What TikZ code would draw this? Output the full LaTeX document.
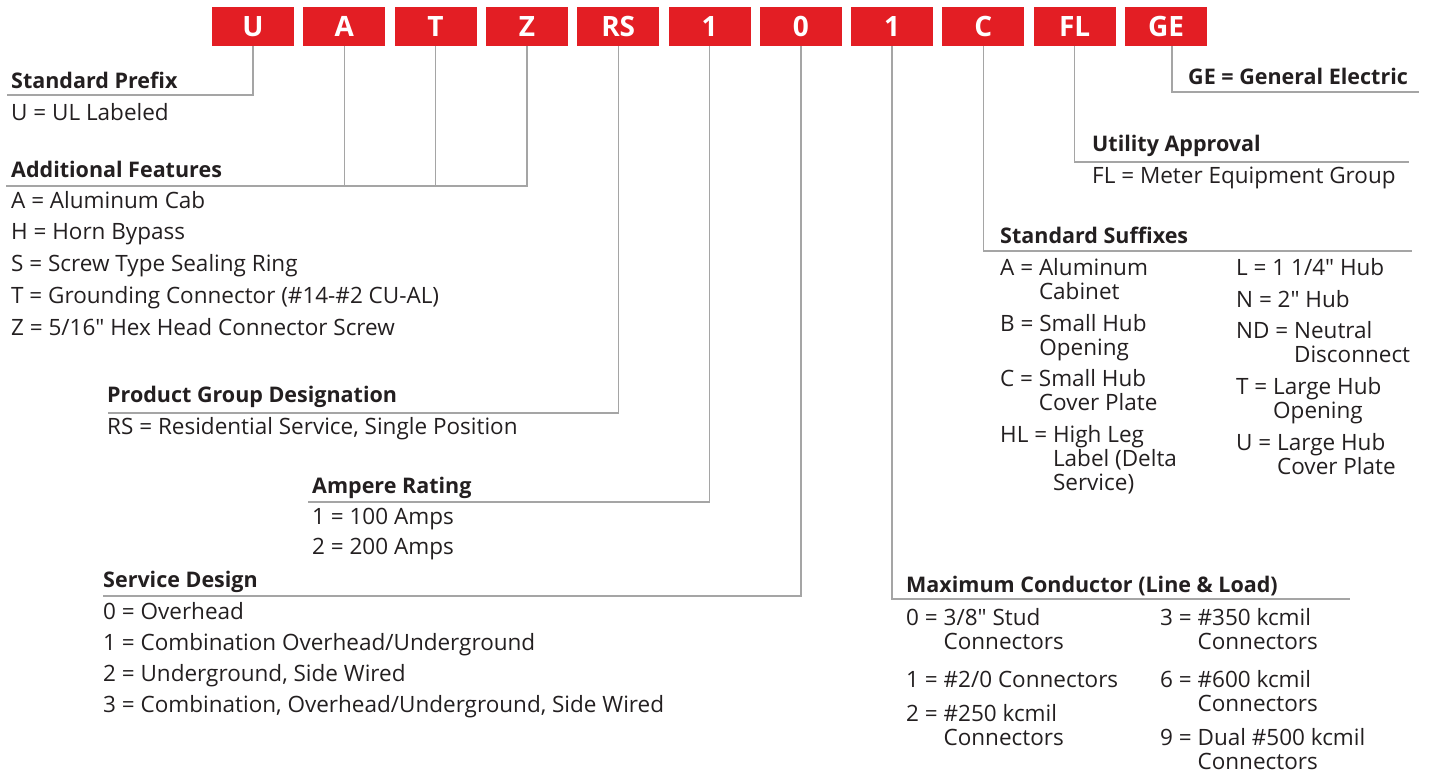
\documentclass[tikz,border=0pt]{standalone}
\usepackage{fontspec}
\setmainfont{Open Sans}[Ligatures=TeXOff]
\usetikzlibrary{positioning}
\definecolor{codered}{RGB}{227,30,36}
\definecolor{leadgray}{RGB}{165,165,165}
\definecolor{inkblack}{RGB}{35,31,32}
\newcommand{\hangitem}[2]{#1 =~\begin{tabular}[t]{@{}l@{}}#2\end{tabular}}
\newcommand{\inch}{"}

\begin{document}
\begin{tikzpicture}[x=1pt,y=-1pt]
\tikzstyle{codebox}=[fill=codered, minimum width=82pt, minimum height=39pt, inner sep=0pt, text=white, font=\fontsize{28}{30}\selectfont\bfseries]
\tikzstyle{leader}=[draw=leadgray, line width=1.4pt]
\tikzstyle{heading}=[anchor=base west, inner sep=0pt, text=inkblack, font=\fontsize{21.5}{24}\selectfont\bfseries]
\tikzstyle{entry}=[anchor=base west, inner sep=0pt, text=inkblack, font=\fontsize{22.5}{24}\selectfont]

\useasboundingbox (0,0) rectangle (1431,774);

% Code boxes along the top
\foreach \lbl/\nm [count=\i from 0] in {U/U, A/A, T/T, Z/Z, RS/RS, 1/amp, 0/svc, 1/max, C/C, FL/FL, GE/GE}
  \node[codebox] (b\nm) at (253+91.3*\i, 26.5) {\lbl};

% Leader end points
\coordinate (eSP) at (7,95);
\coordinate (eAF) at (6,186);
\coordinate (ePG) at (108,413);
\coordinate (eAR) at (308,502);
\coordinate (eSD) at (103,596);
\coordinate (eMC) at (1350,599);
\coordinate (eSS) at (1412,251);
\coordinate (eUA) at (1409,162);
\coordinate (eGE) at (1419,92);

\draw[leader] (bU.south) |- (eSP);
\draw[leader] (bA.south) -- (bA.south |- eAF);
\draw[leader] (bT.south) -- (bT.south |- eAF);
\draw[leader] (bZ.south) |- (eAF);
\draw[leader] (bRS.south) |- (ePG);
\draw[leader] (bamp.south) |- (eAR);
\draw[leader] (bsvc.south) |- (eSD);
\draw[leader] (bmax.south) |- (eMC);
\draw[leader] (bC.south) |- (eSS);
\draw[leader] (bFL.south) |- (eUA);
\draw[leader] ([xshift=6pt]bGE.south) |- (eGE);

% Left hand groups
\node[heading] (hSP) at (11,88) {Standard Prefix};
\node[entry] (iSP) at (11,120) {U = UL Labeled};

\node[heading] (hAF) at (11,177) {Additional Features};
\foreach \txt [count=\k from 0] in {A = Aluminum Cab, H = Horn Bypass, S = Screw Type Sealing Ring, T = Grounding Connector (\#14-\#2 CU-AL), Z = 5/16\inch{} Hex Head Connector Screw}
  \node[entry] (iAF\k) at (11, 208+31.8*\k) {\txt};

\node[heading] (hPG) at (107,402) {Product Group Designation};
\node[entry] (iPG) at (107,434) {RS = Residential Service, Single Position};

\node[heading] (hAR) at (312,493) {Ampere Rating};
\node[entry] (iAR0) at (312,524) {1 = 100 Amps};
\node[entry] (iAR1) at (312,554) {2 = 200 Amps};

\node[heading] (hSD) at (103,587) {Service Design};
\foreach \txt [count=\k from 0] in {0 = Overhead, 1 = Combination Overhead/Underground, {2 = Underground, Side Wired}, {3 = Combination, Overhead/Underground, Side Wired}}
  \node[entry] (iSD\k) at (103, 619+31*\k) {\txt};

% Right hand groups
\node[heading] (hGE) at (1188,84) {GE = General Electric};

\node[heading] (hUA) at (1092,151) {Utility Approval};
\node[entry] (iUA) at (1092,183) {FL = Meter Equipment Group};

\node[heading] (hSS) at (1000,243) {Standard Suffixes};
\node[entry] (iSSa) at (1000,275) {\hangitem{A}{Aluminum\\Cabinet}};
\node[entry] (iSSb) at (1000,331) {\hangitem{B}{Small Hub\\Opening}};
\node[entry] (iSSc) at (1000,386) {\hangitem{C}{Small Hub\\Cover Plate}};
\node[entry] (iSSd) at (1000,442) {\hangitem{HL}{High Leg\\Label (Delta\\Service)}};
\node[entry] (iSSe) at (1236,275) {L = 1 1/4\inch{} Hub};
\node[entry] (iSSf) at (1236,307) {N = 2\inch{} Hub};
\node[entry] (iSSg) at (1236,338) {\hangitem{ND}{Neutral\\Disconnect}};
\node[entry] (iSSh) at (1236,394) {\hangitem{T}{Large Hub\\Opening}};
\node[entry] (iSSi) at (1236,450) {\hangitem{U}{Large Hub\\Cover Plate}};

\node[heading] (hMC) at (906,592) {Maximum Conductor (Line \& Load)};
\node[entry] (iMCa) at (906,625) {\hangitem{0}{3/8\inch{} Stud\\Connectors}};
\node[entry] (iMCb) at (906,687) {1 = \#2/0 Connectors};
\node[entry] (iMCc) at (906,721) {\hangitem{2}{\#250 kcmil\\Connectors}};
\node[entry] (iMCd) at (1160,625) {\hangitem{3}{\#350 kcmil\\Connectors}};
\node[entry] (iMCe) at (1160,687) {\hangitem{6}{\#600 kcmil\\Connectors}};
\node[entry] (iMCf) at (1160,745) {\hangitem{9}{Dual \#500 kcmil\\Connectors}};
\end{tikzpicture}
\end{document}
